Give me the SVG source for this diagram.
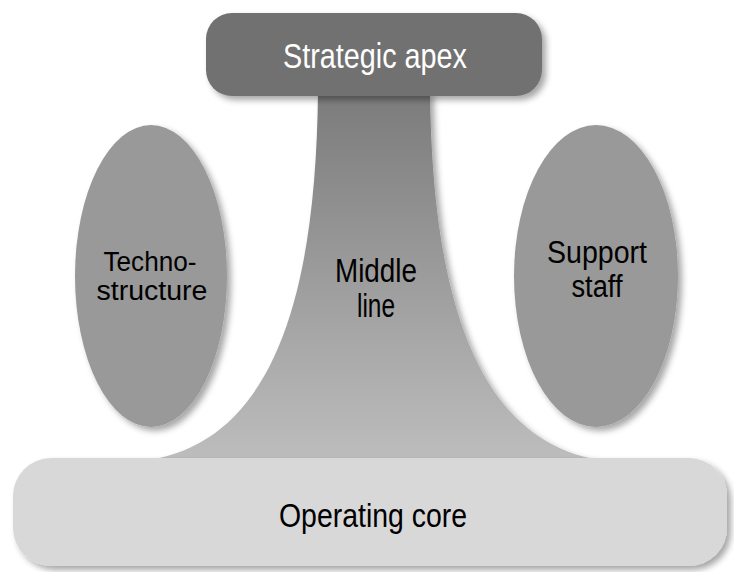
<svg xmlns="http://www.w3.org/2000/svg" width="734" height="572" viewBox="0 0 734 572">
<style>
text{font-family:"Liberation Sans",Arial,sans-serif;text-anchor:middle}
.dark{fill:#000}
.light{fill:#fff}
</style>
<defs>
<filter id="sh" x="-10%" y="-10%" width="130%" height="130%">
<feDropShadow dx="4" dy="4" stdDeviation="3" flood-color="#000" flood-opacity="0.35"/>
</filter>
<linearGradient id="stemGrad" x1="0" y1="0" x2="0" y2="1">
<stop offset="0" stop-color="#7b7b7b"/>
<stop offset="1" stop-color="#bdbdbd"/>
</linearGradient>
</defs>
<rect width="734" height="572" fill="#fff"/>
<g id="middle-line">
<path d="M318,92 L430,92 C432,280 470,440 600,460 L148,460 C280,440 316,280 318,92 Z" fill="url(#stemGrad)" filter="url(#sh)"/>
<text class="dark" font-size="34" x="376" y="282" textLength="82" lengthAdjust="spacingAndGlyphs">Middle</text>
<text class="dark" font-size="34" x="376" y="317" textLength="38" lengthAdjust="spacingAndGlyphs">line</text>
</g>
<g id="strategic-apex">
<rect x="206" y="13" width="336" height="83" rx="26" fill="#717171" filter="url(#sh)"/>
<text class="light" font-size="35" x="375" y="68" textLength="184" lengthAdjust="spacingAndGlyphs">Strategic apex</text>
</g>
<g id="technostructure">
<ellipse cx="151" cy="276" rx="76" ry="151" fill="#999" filter="url(#sh)"/>
<text class="dark" font-size="27" x="150" y="271" textLength="93" lengthAdjust="spacingAndGlyphs">Techno-</text>
<text class="dark" font-size="27" x="152" y="300" textLength="111" lengthAdjust="spacingAndGlyphs">structure</text>
</g>
<g id="support-staff">
<ellipse cx="596" cy="276" rx="82" ry="151" fill="#999" filter="url(#sh)"/>
<text class="dark" font-size="31" x="597" y="263" textLength="100" lengthAdjust="spacingAndGlyphs">Support</text>
<text class="dark" font-size="31" x="597" y="297" textLength="51" lengthAdjust="spacingAndGlyphs">staff</text>
</g>
<g id="operating-core">
<rect x="13" y="458" width="714" height="108" rx="38" fill="#d8d8d8" filter="url(#sh)"/>
<text class="dark" font-size="34" x="373" y="527" textLength="188" lengthAdjust="spacingAndGlyphs">Operating core</text>
</g>
<g id="connectors"/>
</svg>
